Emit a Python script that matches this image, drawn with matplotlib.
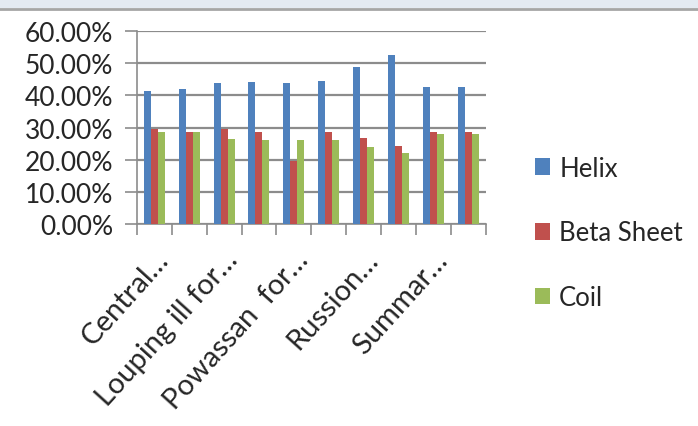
import matplotlib
matplotlib.use("Agg")
import matplotlib.pyplot as plt
import matplotlib.transforms as mtransforms
import numpy as np
from matplotlib.patches import Rectangle
from matplotlib.lines import Line2D
from matplotlib.ticker import PercentFormatter

tick_labels = ["Central…", "", "Louping ill for…", "", "Powassan  for…", "",
               "Russion…", "", "Summar…", ""]
helix = [41.3, 42.0, 43.7, 44.2, 43.7, 44.6, 48.8, 52.7, 42.5, 42.5]
beta_sheet = [29.5, 28.5, 29.5, 28.6, 19.6, 28.6, 26.7, 24.4, 28.6, 28.6]
coil = [28.5, 28.5, 26.4, 26.0, 26.0, 26.0, 23.8, 22.0, 28.0, 28.0]

series = [("Helix", helix, "#4F81BD"),
          ("Beta Sheet", beta_sheet, "#C0504D"),
          ("Coil", coil, "#9BBB59")]

plt.rcParams["font.family"] = ["Lato", "DejaVu Sans"]
text_color = "#262626"

fig = plt.figure(figsize=(6.98, 4.27), dpi=100)
ax = fig.add_axes([0.196, 0.473, 0.5, 0.452])

# window strip at the top of the screenshot
fig.patches.append(Rectangle((0, 1 - 9 / 427), 1, 9 / 427, transform=fig.transFigure,
                             facecolor="#E4EAF2", edgecolor="none", zorder=0))
fig.lines.append(Line2D([0, 1], [1 - 10 / 427] * 2, transform=fig.transFigure,
                        color="#A6A6A6", linewidth=2))

x = np.arange(len(helix))
width = 0.2
for i, (name, vals, color) in enumerate(series):
    ax.bar(x + (i - 1) * width, vals, width=width, color=color, label=name, zorder=3)

ax.set_xlim(-0.5, len(helix) - 0.5)
ax.set_ylim(0, 60)
ax.set_yticks(np.arange(0, 61, 10))
ax.yaxis.set_major_formatter(PercentFormatter(decimals=2))
ax.grid(axis="y", color="#8C8C8C", linewidth=1.6, zorder=0)
ax.tick_params(axis="y", length=9, color="#8C8C8C", width=1.2, labelsize=19,
               labelcolor=text_color, pad=8)

ax.set_xticks(np.arange(-0.5, len(helix)), minor=False)
ax.set_xticklabels([])
ax.set_xticks(x, minor=True)
labels = ax.set_xticklabels(tick_labels, minor=True, rotation=48, ha="right",
                            rotation_mode="anchor", fontsize=21, color=text_color)
shift = mtransforms.ScaledTranslation(15 / 100, 0, fig.dpi_scale_trans)
for lab in labels:
    lab.set_transform(lab.get_transform() + shift)
ax.tick_params(axis="x", which="major", length=8, color="#8C8C8C", width=1.2)
ax.tick_params(axis="x", which="minor", length=0, pad=16)

for side in ["top", "right"]:
    ax.spines[side].set_visible(False)
for side in ["left", "bottom"]:
    ax.spines[side].set_color("#8C8C8C")
    ax.spines[side].set_linewidth(1.2)

fig.legend(loc="center left", bbox_to_anchor=(0.733, 0.452), frameon=False,
           fontsize=18.5, handlelength=0.6, handleheight=0.6, handletextpad=0.35,
           labelspacing=1.55, labelcolor=text_color)

fig.savefig("out.png", dpi=100)
